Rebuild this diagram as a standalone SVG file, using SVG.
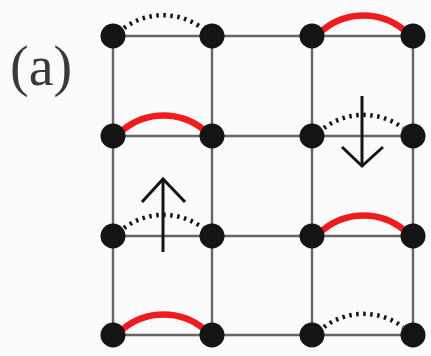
<svg xmlns="http://www.w3.org/2000/svg" width="431" height="356" viewBox="0 0 431 356">
  <style>
    .grid { stroke: #666; stroke-width: 2.4; fill: none; }
    .node { fill: #141414; }
    .red { stroke: #ee1c1c; stroke-width: 6.5; fill: none; stroke-linecap: round; }
    .dot { stroke: #141414; stroke-width: 4.5; fill: none; stroke-dasharray: 2.5 4.5; }
    .arrow { stroke: #141414; stroke-width: 3; fill: none; }
  </style>
  <rect width="431" height="356" fill="#fbfbfd"/>
  <text x="10" y="85" font-family="'Liberation Serif', 'DejaVu Serif', 'Times New Roman', serif" font-size="56" fill="#3a3a3a">(a)</text>
  <g id="connectors">
    <g class="grid">
      <line x1="113" y1="36" x2="413" y2="36"/>
      <line x1="113" y1="136" x2="413" y2="136"/>
      <line x1="113" y1="236" x2="413" y2="236"/>
      <line x1="113" y1="335" x2="413" y2="335"/>
      <line x1="113" y1="36" x2="113" y2="335"/>
      <line x1="212" y1="36" x2="212" y2="335"/>
      <line x1="312" y1="36" x2="312" y2="335"/>
      <line x1="413" y1="36" x2="413" y2="335"/>
    </g>
    <path class="dot" d="M 124 28 A 66 66 0 0 1 202 28"/>
    <path class="red" d="M 323 30 A 64 64 0 0 1 404 30"/>
    <path class="red" d="M 123 130 A 64 64 0 0 1 204 130"/>
    <path class="dot" d="M 324 128 A 66 66 0 0 1 403 128"/>
    <path class="dot" d="M 124 228 A 66 66 0 0 1 203 228"/>
    <path class="red" d="M 323 230 A 64 64 0 0 1 404 230"/>
    <path class="red" d="M 123 329 A 64 64 0 0 1 204 329"/>
    <path class="dot" d="M 324 327 A 66 66 0 0 1 403 327"/>
    <g class="arrow">
      <line x1="163" y1="252" x2="163" y2="179"/>
      <polyline points="142,202 163,179 185,202"/>
      <line x1="362" y1="96" x2="362" y2="166"/>
      <polyline points="342,147 362,166 383,147"/>
    </g>
  </g>
  <g id="nodes">
    <g id="n00"><circle class="node" cx="113" cy="36" r="12.5"/></g>
    <g id="n01"><circle class="node" cx="212" cy="36" r="12.5"/></g>
    <g id="n02"><circle class="node" cx="312" cy="36" r="12.5"/></g>
    <g id="n03"><circle class="node" cx="413" cy="36" r="12.5"/></g>
    <g id="n10"><circle class="node" cx="113" cy="136" r="12.5"/></g>
    <g id="n11"><circle class="node" cx="212" cy="136" r="12.5"/></g>
    <g id="n12"><circle class="node" cx="312" cy="136" r="12.5"/></g>
    <g id="n13"><circle class="node" cx="413" cy="136" r="12.5"/></g>
    <g id="n20"><circle class="node" cx="113" cy="236" r="12.5"/></g>
    <g id="n21"><circle class="node" cx="212" cy="236" r="12.5"/></g>
    <g id="n22"><circle class="node" cx="312" cy="236" r="12.5"/></g>
    <g id="n23"><circle class="node" cx="413" cy="236" r="12.5"/></g>
    <g id="n30"><circle class="node" cx="113" cy="335" r="12.5"/></g>
    <g id="n31"><circle class="node" cx="212" cy="335" r="12.5"/></g>
    <g id="n32"><circle class="node" cx="312" cy="335" r="12.5"/></g>
    <g id="n33"><circle class="node" cx="413" cy="335" r="12.5"/></g>
  </g>
</svg>
